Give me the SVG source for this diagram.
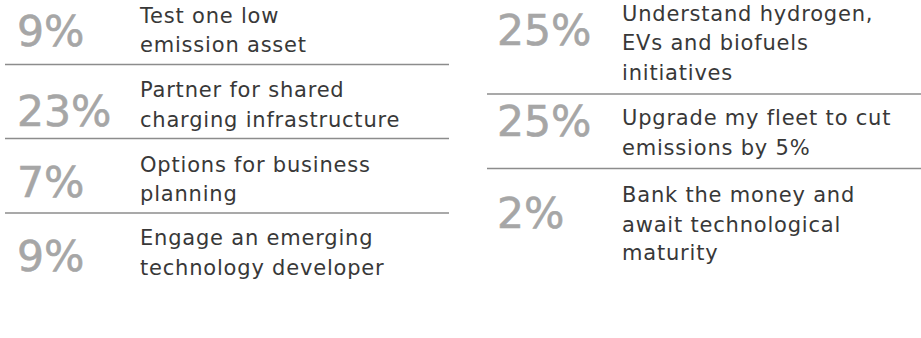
<svg xmlns="http://www.w3.org/2000/svg" width="921" height="338" viewBox="0 0 921 338">
<style>
.pct{font-family:"DejaVu Sans","Liberation Sans",sans-serif;font-size:42.5px;fill:#a6a6a6;stroke:#a6a6a6;stroke-width:0.6;font-weight:400}
.lbl{font-family:"DejaVu Sans","Liberation Sans",sans-serif;font-size:21px;fill:#383838;font-weight:400;letter-spacing:0.8px}
.sep{stroke:#8c8c8c;stroke-width:1.5}
</style>
<rect width="921" height="338" fill="#ffffff"/>
<g id="connectors">
<line class="sep" x1="5" y1="64.5" x2="449" y2="64.5"/>
<line class="sep" x1="5" y1="138.5" x2="449" y2="138.5"/>
<line class="sep" x1="5" y1="213" x2="449" y2="213"/>
<line class="sep" x1="487" y1="94" x2="921" y2="94"/>
<line class="sep" x1="487" y1="168.5" x2="921" y2="168.5"/>
</g>
<g id="item1"><text class="pct" x="17" y="46">9%</text><text class="lbl"><tspan x="140" y="23">Test one low</tspan><tspan x="140" y="52">emission asset</tspan></text></g>
<g id="item2"><text class="pct" x="17" y="126">23%</text><text class="lbl"><tspan x="140" y="97">Partner for shared</tspan><tspan x="140" y="127">charging infrastructure</tspan></text></g>
<g id="item3"><text class="pct" x="17" y="197">7%</text><text class="lbl"><tspan x="140" y="172">Options for business</tspan><tspan x="140" y="201">planning</tspan></text></g>
<g id="item4"><text class="pct" x="17" y="271">9%</text><text class="lbl"><tspan x="140" y="245">Engage an emerging</tspan><tspan x="140" y="275">technology developer</tspan></text></g>
<g id="item5"><text class="pct" x="497" y="45">25%</text><text class="lbl"><tspan x="622" y="21">Understand hydrogen,</tspan><tspan x="622" y="50">EVs and biofuels</tspan><tspan x="622" y="80">initiatives</tspan></text></g>
<g id="item6"><text class="pct" x="497" y="136">25%</text><text class="lbl"><tspan x="622" y="125">Upgrade my fleet to cut</tspan><tspan x="622" y="155">emissions by 5%</tspan></text></g>
<g id="item7"><text class="pct" x="497" y="228">2%</text><text class="lbl"><tspan x="622" y="202">Bank the money and</tspan><tspan x="622" y="232">await technological</tspan><tspan x="622" y="260">maturity</tspan></text></g>
</svg>
